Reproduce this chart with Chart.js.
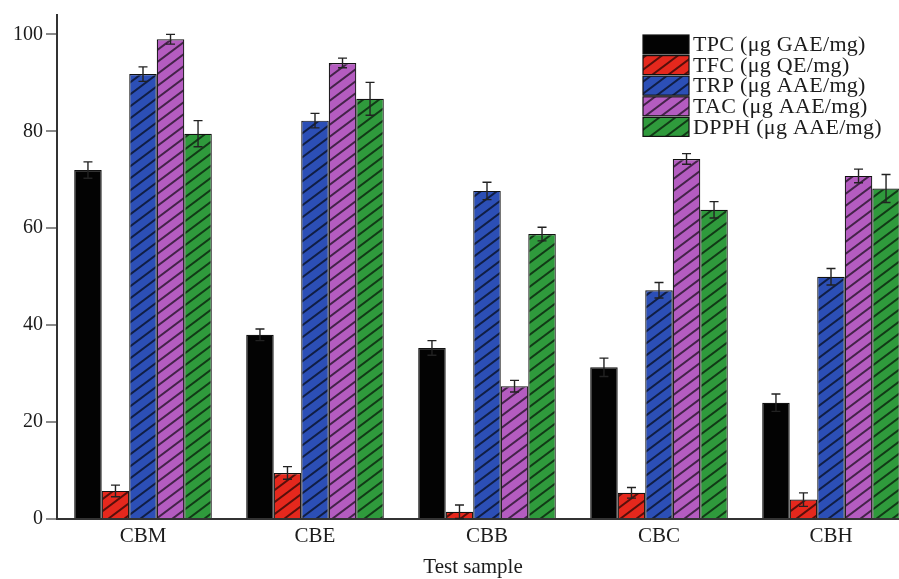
<!DOCTYPE html>
<html>
<head>
<meta charset="utf-8">
<script src="https://cdn.jsdelivr.net/npm/chart.js@4/dist/chart.umd.min.js"></script>
<style>
  html, body { margin: 0; padding: 0; background: #fff; overflow: hidden; }
  #wrap { width: 920px; height: 579px; position: relative; }
</style>
</head>
<body>
<div id="wrap"><canvas id="c" width="920" height="579"></canvas></div>
<script>
// Test samples
const categories = ['CBM', 'CBE', 'CBB', 'CBC', 'CBH'];

// Series labels
const seriesNames = [
  'TPC (\u03bcg GAE/mg)',
  'TFC (\u03bcg QE/mg)',
  'TRP (\u03bcg AAE/mg)',
  'TAC (\u03bcg AAE/mg)',
  'DPPH (\u03bcg AAE/mg)'
];

// Mean values per sample
const tpc  = [72.0, 38.0, 35.3, 31.3, 24.0];
const tfc  = [5.8, 9.5, 1.5, 5.4, 4.0];
const trp  = [91.8, 82.2, 67.7, 47.2, 50.0];
const tac  = [99.0, 94.1, 27.4, 74.3, 70.8];
const dpph = [79.5, 86.7, 58.8, 63.8, 68.2];

// Standard deviations
const tpcErr  = [1.7, 1.2, 1.5, 1.9, 1.8];
const tfcErr  = [1.2, 1.3, 1.4, 1.1, 1.4];
const trpErr  = [1.5, 1.5, 1.8, 1.6, 1.7];
const tacErr  = [1.0, 1.0, 1.2, 1.1, 1.4];
const dpphErr = [2.7, 3.4, 1.4, 1.7, 2.9];

// Y axis tick values
const yTicks = [0, 20, 40, 60, 80, 100];
const xTitle = 'Test sample';

const SERIF = "'Liberation Serif', 'DejaVu Serif', serif";
const INK = '#1c1c1c';

function hatch(base) {
  const w = 16, h = 12;
  const c = document.createElement('canvas');
  c.width = w; c.height = h;
  const g = c.getContext('2d');
  g.fillStyle = base;
  g.fillRect(0, 0, w, h);
  g.strokeStyle = 'rgba(0,0,0,0.62)';
  g.lineWidth = 2;
  g.lineCap = 'square';
  g.beginPath();
  g.moveTo(0, h); g.lineTo(w, 0);
  g.moveTo(-w, h); g.lineTo(0, 0);
  g.moveTo(w, h); g.lineTo(2 * w, 0);
  g.stroke();
  return g.createPattern(c, 'repeat');
}

const ctx = document.getElementById('c').getContext('2d');

const fills = [
  '#030303',
  hatch('#e5281d'),
  hatch('#2c4fb6'),
  hatch('#b45cc0'),
  hatch('#2f9a3c')
];

const values = [tpc, tfc, trp, tac, dpph];
const errors = [tpcErr, tfcErr, trpErr, tacErr, dpphErr];

const datasets = values.map((v, i) => ({
  label: seriesNames[i],
  data: v,
  errors: errors[i],
  backgroundColor: fills[i],
  borderColor: '#111',
  borderWidth: 1.2,
  borderSkipped: 'bottom',
  categoryPercentage: 0.8,
  barPercentage: 1.0
}));

// Symmetric error bars with caps at both ends
const errorBars = {
  id: 'errorBars',
  afterDatasetsDraw(chart) {
    const g = chart.ctx;
    const ys = chart.scales.y;
    g.save();
    g.strokeStyle = '#222';
    g.lineWidth = 1.4;
    chart.data.datasets.forEach((ds, di) => {
      const meta = chart.getDatasetMeta(di);
      meta.data.forEach((bar, i) => {
        const v = ds.data[i], e = ds.errors[i];
        const top = ys.getPixelForValue(v + e);
        const bot = ys.getPixelForValue(Math.max(0, v - e));
        const x = bar.x, cw = 4.5;
        g.beginPath();
        g.moveTo(x, top); g.lineTo(x, bot);
        g.moveTo(x - cw, top); g.lineTo(x + cw, top);
        g.moveTo(x - cw, bot); g.lineTo(x + cw, bot);
        g.stroke();
      });
    });
    g.restore();
  }
};

// Legend block in the upper right corner and the x axis caption
const boxLegend = {
  id: 'boxLegend',
  afterDraw(chart) {
    const g = chart.ctx;
    const x0 = 643, y0 = 35, bw = 46, bh = 19, step = 20.6;
    g.save();
    g.font = '22px ' + SERIF;
    g.letterSpacing = '0.3px';
    g.textBaseline = 'middle';
    g.textAlign = 'left';
    chart.data.datasets.forEach((ds, i) => {
      const y = y0 + i * step;
      g.fillStyle = ds.backgroundColor;
      g.fillRect(x0, y, bw, bh);
      g.strokeStyle = '#111';
      g.lineWidth = 1.2;
      g.strokeRect(x0, y, bw, bh);
      g.fillStyle = INK;
      g.fillText(ds.label, x0 + 50, y + bh / 2 + 1);
    });
    g.letterSpacing = '0px';
    g.font = '21px ' + SERIF;
    g.textAlign = 'center';
    g.fillText(xTitle, 473, 567);
    g.restore();
  }
};

new Chart(ctx, {
  type: 'bar',
  data: { labels: categories, datasets },
  options: {
    responsive: false,
    animation: false,
    layout: { padding: { top: 0, right: 3, left: 0, bottom: 0 } },
    plugins: {
      legend: { display: false },
      tooltip: { enabled: false }
    },
    scales: {
      x: {
        grid: { display: false, drawTicks: false },
        border: { display: true, color: '#333', width: 2 },
        ticks: { color: INK, font: { family: SERIF, size: 21 }, padding: 5 },
        afterFit(s) { s.height = 60; }
      },
      y: {
        min: 0,
        max: 104,
        grid: { display: true, drawOnChartArea: false, drawTicks: true, tickLength: 11, color: '#8a8a8a', lineWidth: 2 },
        border: { display: true, color: '#333', width: 2 },
        ticks: { color: INK, font: { family: SERIF, size: 20 }, padding: 3, stepSize: 20 },
        afterBuildTicks(axis) {
          axis.ticks = yTicks.map(v => ({ value: v }));
        },
        afterFit(s) { s.width = 57; }
      }
    }
  },
  plugins: [errorBars, boxLegend]
});
</script>
</body>
</html>
